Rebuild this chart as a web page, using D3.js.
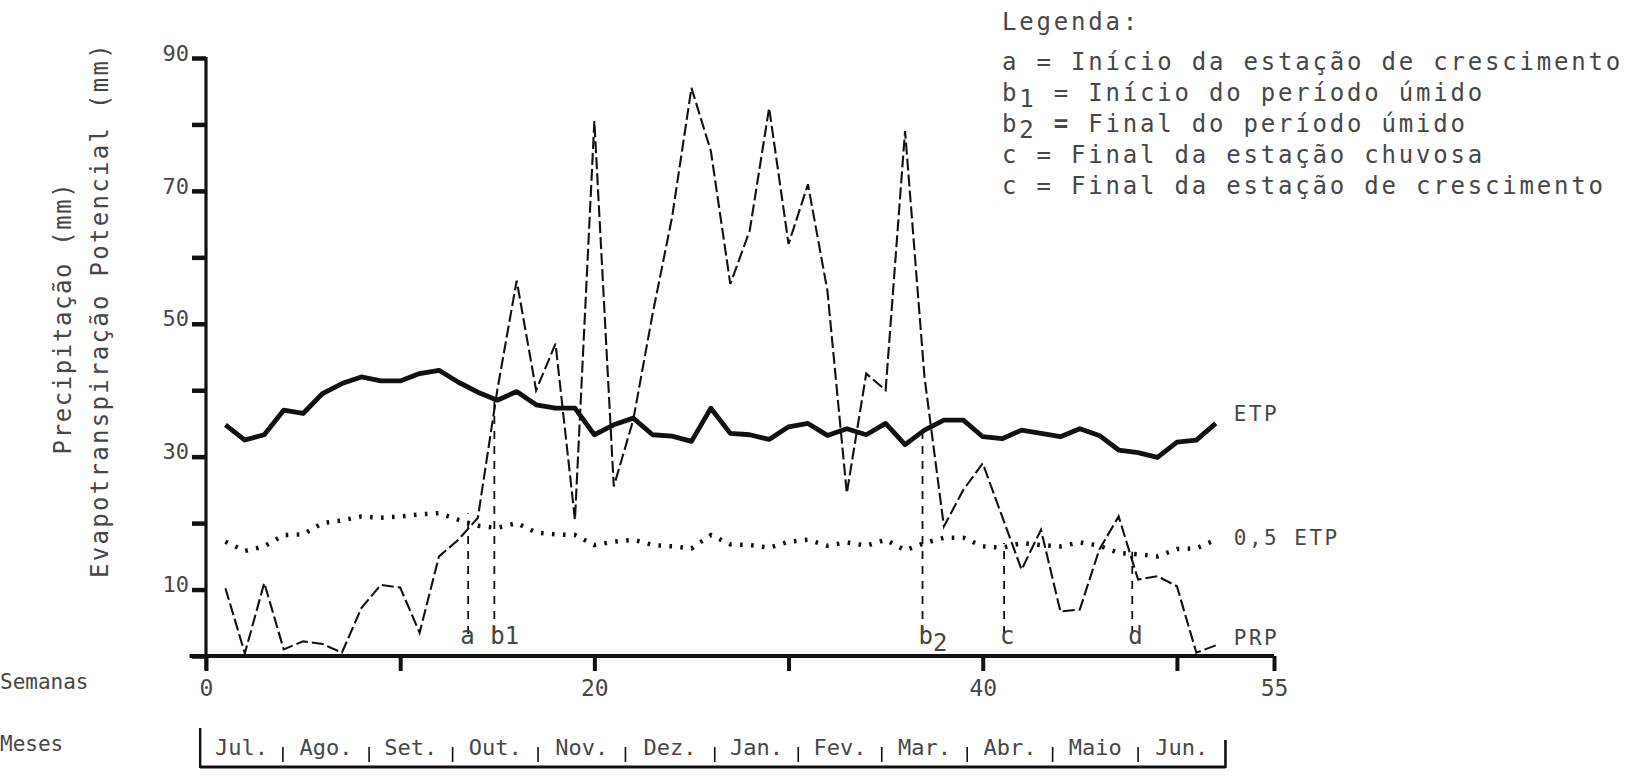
<!DOCTYPE html>
<html><head><meta charset="utf-8">
<script src="https://cdn.jsdelivr.net/npm/d3@7"></script>
<style>
body{margin:0;background:#fff;}
svg{display:block;background:#fff;}
</style></head><body>
<svg id="chart" width="1628" height="779"></svg>
<script>
// ---- data ----
const weeks = [1,2,3,4,5,6,7,8,9,10,11,12,13,14,15,16,17,18,19,20,21,22,23,24,25,26,
  27,28,29,30,31,32,33,34,35,36,37,38,39,40,41,42,43,44,45,46,47,48,49,50,51,52];
const etp = [34.8,32.5,33.3,37.0,36.5,39.5,41.0,42.0,41.4,41.4,42.5,43.0,41.2,39.7,38.5,39.8,
  37.8,37.3,37.3,33.3,34.8,35.8,33.3,33.1,32.3,37.3,33.5,33.3,32.6,34.5,35.0,33.2,34.2,33.3,
  35.0,31.8,34.0,35.5,35.5,33.0,32.7,34.0,33.5,33.0,34.2,33.2,31.0,30.6,29.9,32.2,32.5,35.0];
const halfEtp = [17.2,15.8,16.5,18.2,18.3,20.0,20.4,21.0,20.8,21.0,21.3,21.5,20.5,19.6,19.3,20.0,
  18.6,18.3,18.2,16.7,17.2,17.5,16.7,16.5,16.2,18.2,16.8,16.7,16.3,17.2,17.5,16.6,17.1,16.6,
  17.5,15.9,17.0,17.8,17.8,16.5,16.3,17.0,16.7,16.5,17.1,16.6,15.5,15.3,15.0,16.1,16.2,17.5];
const prp = [10.2,0.4,11.0,1.0,2.2,1.8,0.5,7.2,10.7,10.3,3.5,15.0,17.5,20.8,40.0,56.5,40.0,47.0,
  20.5,80.5,25.5,35.5,51.5,66.0,85.5,76.0,56.0,64.0,82.5,62.0,71.0,55.0,24.5,42.5,40.0,79.0,
  42.0,19.5,25.0,29.0,21.0,13.0,19.0,6.7,7.0,16.0,21.0,11.5,12.0,10.5,0.5,1.6];

const yTickValues = [0,10,20,30,40,50,60,70,80,90];
const yTickLabels = [10,30,50,70,90];
const xTickValues = [0,10,20,30,40,50,55];
const xTickLabels = [0,20,40,55];

const markerNames = ["a","b","b","c","d"];
const markerSubs  = ["","1","2","",""];
const markerWeeks = [13.5,14.85,36.9,41.1,47.7];
const markerTops  = [21.5,38.3,33.8,17.0,15.7];

const monthNames = ["Jul.","Ago.","Set.","Out.","Nov.","Dez.","Jan.","Fev.","Mar.","Abr.","Maio","Jun."];
const monthBounds = [-0.3,3.96,8.4,12.7,17.1,21.6,26.2,30.5,34.8,39.2,43.6,48.0,52.5];

const legendKeys = ["a","b","b","c","c"];
const legendSubs = ["","1","2","",""];
const legendTexts = ["Início da estação de crescimento","Início do período úmido",
  "Final do período úmido","Final da estação chuvosa","Final da estação de crescimento"];

const seriesLabels = ["ETP","0,5 ETP","PRP"];

// ---- drawing ----
const FONT = "'DejaVu Sans Mono', monospace";
const INK = "#111";
const TXT = "#474747";
const svg = d3.select("#chart");
const x = d3.scaleLinear().domain([0,55]).range([206,1274]);
const y = d3.scaleLinear().domain([0,90]).range([656,58]);

// y axis
const gy = svg.append("g").attr("transform",`translate(${x(0)},0)`)
  .call(d3.axisLeft(y).tickValues(yTickValues).tickSize(14).tickPadding(3)
    .tickFormat(d => yTickLabels.includes(d) ? d : ""));
gy.select(".domain").remove();
gy.selectAll(".tick line").attr("stroke",INK).attr("stroke-width",4.5);
gy.selectAll(".tick text").attr("font-family",FONT).attr("font-size",22)
  .attr("fill",TXT).attr("dy","0.1em");
svg.append("line").attr("x1",x(0)).attr("x2",x(0)).attr("y1",y(90)-1).attr("y2",y(-2.1))
  .attr("stroke",INK).attr("stroke-width",3.2);

// x axis
const gx = svg.append("g").attr("transform",`translate(0,${y(0)})`)
  .call(d3.axisBottom(x).tickValues(xTickValues).tickSize(15).tickPadding(9)
    .tickFormat(d => xTickLabels.includes(d) ? d : ""));
gx.select(".domain").remove();
gx.selectAll(".tick line").attr("stroke",INK).attr("stroke-width",4);
gx.selectAll(".tick text").attr("font-family",FONT).attr("font-size",23).attr("fill",TXT);
svg.append("line").attr("x1",x(-0.85)).attr("x2",x(55)).attr("y1",y(0)).attr("y2",y(0))
  .attr("stroke",INK).attr("stroke-width",4.2);

// axis titles
svg.append("text").attr("transform",`translate(63,318) rotate(-90)`)
  .attr("text-anchor","middle").attr("dy","0.35em").attr("font-family",FONT)
  .attr("font-size",24).attr("letter-spacing",1.6).attr("fill",TXT).text("Precipitação (mm)");
svg.append("text").attr("transform",`translate(100,310) rotate(-90)`)
  .attr("text-anchor","middle").attr("dy","0.35em").attr("font-family",FONT)
  .attr("font-size",24).attr("letter-spacing",2.3).attr("fill",TXT).text("Evapotranspiração Potencial (mm)");
svg.append("text").attr("x",0).attr("y",689).attr("font-family",FONT).attr("font-size",21)
  .attr("fill",TXT).text("Semanas");
svg.append("text").attr("x",0).attr("y",751).attr("font-family",FONT).attr("font-size",21)
  .attr("fill",TXT).text("Meses");

// series
const pts = (vals) => weeks.map((w,i) => [w, vals[i]]);
const line = d3.line().x(d => x(d[0])).y(d => y(d[1]));
svg.append("path").attr("d",line(pts(halfEtp))).attr("fill","none").attr("stroke",INK)
  .attr("stroke-width",4.5).attr("stroke-dasharray","2.6,8.4");
svg.append("path").attr("d",line(pts(prp))).attr("fill","none").attr("stroke",INK)
  .attr("stroke-width",2.1).attr("stroke-dasharray","12,4");
svg.append("path").attr("d",line(pts(etp))).attr("fill","none").attr("stroke",INK)
  .attr("stroke-width",4.8).attr("stroke-linejoin","round");

// series labels
const labelVals = [etp[etp.length-1], halfEtp[halfEtp.length-1], prp[prp.length-1]];
const labelOffsets = [-10, -2, -8];
svg.selectAll("text.slab").data(seriesLabels).join("text").attr("class","slab")
  .attr("x", x(weeks[weeks.length-1]) + 18)
  .attr("y", (d,i) => y(labelVals[i]) + labelOffsets[i]).attr("dy","0.35em")
  .attr("font-family",FONT).attr("font-size",21).attr("letter-spacing",2.5).attr("fill",TXT)
  .text(d => d);

// marker dashed lines and labels
markerWeeks.forEach((w,i) => {
  svg.append("line").attr("x1",x(w)).attr("x2",x(w)).attr("y1",y(0)-22).attr("y2",y(markerTops[i]))
    .attr("stroke",INK).attr("stroke-width",1.8).attr("stroke-dasharray","8,7");
  const t = svg.append("text").attr("x",x(w) + (i===0 ? -8 : -4)).attr("y",y(0)-12)
    .attr("font-family",FONT).attr("font-size",24).attr("fill",TXT).text(markerNames[i]);
  if (markerSubs[i]) {
    t.append("tspan").attr("dy", i===2 ? 7 : 0).text(markerSubs[i]);
  }
});

// month bar
const mb = svg.append("g");
mb.append("line").attr("x1",x(monthBounds[0])).attr("x2",x(monthBounds[monthBounds.length-1]))
  .attr("y1",767).attr("y2",767).attr("stroke",INK).attr("stroke-width",3);
mb.append("line").attr("x1",x(monthBounds[0])).attr("x2",x(monthBounds[0])).attr("y1",728).attr("y2",768)
  .attr("stroke",INK).attr("stroke-width",2.4);
const lastB = monthBounds[monthBounds.length-1];
mb.append("line").attr("x1",x(lastB)).attr("x2",x(lastB)).attr("y1",740).attr("y2",768)
  .attr("stroke",INK).attr("stroke-width",2.6);
monthBounds.slice(1,-1).forEach(b => {
  mb.append("line").attr("x1",x(b)).attr("x2",x(b)).attr("y1",747).attr("y2",762)
    .attr("stroke",INK).attr("stroke-width",1.6);
});
monthNames.forEach((m,i) => {
  mb.append("text").attr("x",x((monthBounds[i]+monthBounds[i+1])/2)).attr("y",755)
    .attr("text-anchor","middle").attr("font-family",FONT).attr("font-size",22)
    .attr("fill",TXT).text(m);
});

// legend
const lg = svg.append("g").attr("font-family",FONT).attr("font-size",24)
  .attr("letter-spacing",2.8).attr("fill",TXT);
lg.append("text").attr("x",1002).attr("y",30).text("Legenda:");
legendTexts.forEach((s,i) => {
  const t = lg.append("text").attr("x",1002).attr("y",70 + i*31);
  t.append("tspan").text(legendKeys[i]);
  if (legendSubs[i]) {
    t.append("tspan").attr("dy",6).text(legendSubs[i]);
    t.append("tspan").attr("dy",-6).attr("font-weight", i===2 ? "bold" : null).text(" =");
  } else {
    t.append("tspan").text("  =");
  }
  t.append("tspan").text(" " + s);
});
</script>
</body></html>
